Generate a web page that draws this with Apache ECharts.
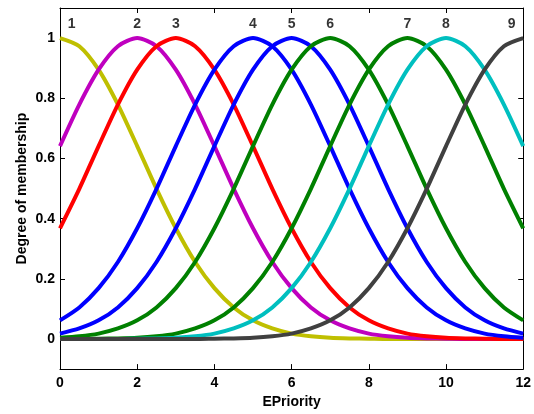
<!DOCTYPE html>
<html><head><meta charset="utf-8">
<script src="https://cdn.jsdelivr.net/npm/echarts@6/dist/echarts.min.js"></script>
<style>html,body{margin:0;padding:0;background:#fff}#c{width:534px;height:414px}</style>
</head><body><div id="c"></div>
<script>
// x samples 0..12 step 0.5
const xVals = [0,0.5,1,1.5,2,2.5,3,3.5,4,4.5,5,5.5,6,6.5,7,7.5,8,8.5,9,9.5,10,10.5,11,11.5,12];
const mf1 = [1,.973,.895,.779,.641,.499,.368,.256,.169,.105,.062,.035,.018,.009,.004,.002,.001,0,0,0,0,0,0,0,0];
const mf2 = [.641,.779,.895,.973,1,.973,.895,.779,.641,.499,.368,.256,.169,.105,.062,.035,.018,.009,.004,.002,.001,0,0,0,0];
const mf3 = [.368,.499,.641,.779,.895,.973,1,.973,.895,.779,.641,.499,.368,.256,.169,.105,.062,.035,.018,.009,.004,.002,.001,0,0];
const mf4 = [.062,.105,.169,.256,.368,.499,.641,.779,.895,.973,1,.973,.895,.779,.641,.499,.368,.256,.169,.105,.062,.035,.018,.009,.004];
const mf5 = [.018,.035,.062,.105,.169,.256,.368,.499,.641,.779,.895,.973,1,.973,.895,.779,.641,.499,.368,.256,.169,.105,.062,.035,.018];
const mf6 = [.004,.009,.018,.035,.062,.105,.169,.256,.368,.499,.641,.779,.895,.973,1,.973,.895,.779,.641,.499,.368,.256,.169,.105,.062];
const mf7 = [0,0,.001,.002,.004,.009,.018,.035,.062,.105,.169,.256,.368,.499,.641,.779,.895,.973,1,.973,.895,.779,.641,.499,.368];
const mf8 = [0,0,0,0,.001,.002,.004,.009,.018,.035,.062,.105,.169,.256,.368,.499,.641,.779,.895,.973,1,.973,.895,.779,.641];
const mf9 = [0,0,0,0,0,0,0,0,.001,.002,.004,.009,.018,.035,.062,.105,.169,.256,.368,.499,.641,.779,.895,.973,1];
const seriesData = [mf1,mf2,mf3,mf4,mf5,mf6,mf7,mf8,mf9];
const seriesNames = ['1','2','3','4','5','6','7','8','9'];
const colors = ['#bfbf00','#bf00bf','#ff0000','#0000ff','#0000ff','#008000','#008000','#00bfbf','#404040'];
const labelX = [0.3,2,3,5,6,7,9,10,11.7];
const labelY = 1.045;
const yTicks = [0,0.2,0.4,0.6,0.8,1];

const font = {fontFamily:'Liberation Sans, Arial, sans-serif', fontWeight:'bold', fontSize:14, color:'#000'};
const chart = echarts.init(document.getElementById('c'), null, {renderer:'canvas'});
const series = seriesData.map((d,i)=>({
  type:'line', name:seriesNames[i], data:d.map((v,j)=>[xVals[j],v]),
  smooth:0.25, showSymbol:false, symbol:'none',
  lineStyle:{color:colors[i], width:4}, itemStyle:{color:colors[i]},
  z:2+i
}));
series.push({
  type:'scatter', symbolSize:0,
  data:labelX.map((x,i)=>({value:[x,labelY], name:seriesNames[i]})),
  label:{show:true, position:'inside', formatter:p=>p.name, ...font},
  z:20
});
const axisLineStyle = {show:true, onZero:false, lineStyle:{color:'#000', width:1}};
chart.setOption({
  animation:false,
  grid:{left:60, top:8, right:10, bottom:39, containLabel:false},
  xAxis:[
    {type:'value', min:0, max:12, interval:2, position:'bottom',
     axisLine:axisLineStyle, axisTick:{show:true, inside:true, length:5, lineStyle:{color:'#000'}},
     axisLabel:{...font, margin:7}, splitLine:{show:false},
     name:'EPriority', nameLocation:'middle', nameGap:23, nameTextStyle:font},
    {type:'value', min:0, max:12, interval:2, position:'top',
     axisLine:axisLineStyle, axisTick:{show:true, inside:true, length:5, lineStyle:{color:'#000'}},
     axisLabel:{show:false}, splitLine:{show:false}}
  ],
  yAxis:[
    {type:'value', min:-0.1, max:1.1, position:'left',
     axisLine:axisLineStyle,
     axisTick:{show:true, inside:true, length:5, customValues:yTicks, lineStyle:{color:'#000'}},
     axisLabel:{...font, margin:5, customValues:yTicks, formatter:v=>String(+v.toFixed(1))},
     splitLine:{show:false},
     name:'Degree of membership', nameLocation:'middle', nameGap:31, nameMoveOverlap:false, nameTextStyle:font},
    {type:'value', min:-0.1, max:1.1, position:'right',
     axisLine:axisLineStyle,
     axisTick:{show:true, inside:true, length:5, customValues:yTicks, lineStyle:{color:'#000'}},
     axisLabel:{show:false}, splitLine:{show:false}}
  ],
  series:series
});
</script></body></html>
